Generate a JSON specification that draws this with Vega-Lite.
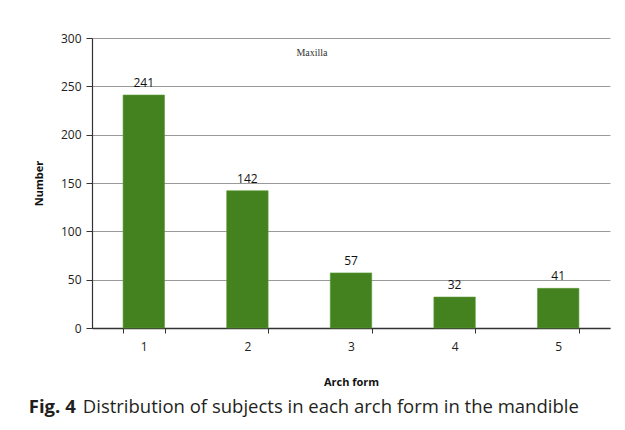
{
  "$schema": "https://vega.github.io/schema/vega-lite/v6.json",
  "width": 518,
  "height": 290,
  "autosize": {"type": "none"},
  "padding": {"left": 92, "top": 38, "right": 15, "bottom": 102},
  "background": "white",
  "config": {"view": {"stroke": null}, "font": "Open Sans"},
  "data": {
    "values": [
      {"form": "1", "count": 241},
      {"form": "2", "count": 142},
      {"form": "3", "count": 57},
      {"form": "4", "count": 32},
      {"form": "5", "count": 41}
    ]
  },
  "layer": [
    {
      "mark": {"type": "bar", "color": "#44821f", "stroke": "#5a9a35", "strokeWidth": 0.6},
      "encoding": {
        "x": {
          "field": "form",
          "type": "nominal",
          "scale": {"paddingInner": 0.6, "paddingOuter": 0.3},
          "axis": {
            "title": "Arch form",
            "titleFont": "Open Sans",
            "titleFontSize": 11,
            "titleFontWeight": "bold",
            "titleColor": "#111",
            "titlePadding": 24,
            "labelAngle": 0,
            "labelFontSize": 12,
            "labelColor": "#222",
            "labelPadding": 8,
            "tickBand": "extent",
            "tickSize": 5,
            "tickColor": "#333",
            "domainColor": "#333",
            "domainWidth": 1.5,
            "grid": false
          }
        },
        "y": {
          "field": "count",
          "type": "quantitative",
          "scale": {"domain": [0, 300], "nice": false},
          "axis": {
            "title": "Number",
            "titleFont": "Open Sans",
            "titleFontSize": 11,
            "titleFontWeight": "bold",
            "titleColor": "#111",
            "titlePadding": 16,
            "values": [0, 50, 100, 150, 200, 250, 300],
            "labelFontSize": 12,
            "labelColor": "#222",
            "labelPadding": 5,
            "tickSize": 6,
            "tickColor": "#333",
            "domainColor": "#333",
            "domainWidth": 1.2,
            "gridColor": "#9a9a9a",
            "gridWidth": 1
          }
        }
      }
    },
    {
      "mark": {"type": "text", "dy": -12, "fontSize": 12, "color": "#111", "font": "Open Sans"},
      "encoding": {
        "x": {"field": "form", "type": "nominal"},
        "y": {"field": "count", "type": "quantitative"},
        "text": {"field": "count", "type": "quantitative"}
      }
    },
    {
      "data": {"values": [{"label": "Maxilla"}]},
      "mark": {"type": "text", "font": "Liberation Serif", "fontSize": 10, "color": "#333", "dx": -39},
      "encoding": {
        "x": {"datum": "3", "type": "nominal"},
        "y": {"datum": 285, "type": "quantitative"},
        "text": {"field": "label", "type": "nominal"}
      }
    },
    {
      "data": {"values": [{"label": "Fig. 4"}]},
      "mark": {"type": "text", "font": "Open Sans", "fontSize": 18.5, "fontWeight": "bold", "color": "#231f20", "align": "left", "baseline": "alphabetic", "dx": -115},
      "encoding": {
        "x": {"datum": "1", "type": "nominal"},
        "y": {"datum": -88, "type": "quantitative"},
        "text": {"field": "label", "type": "nominal"}
      }
    },
    {
      "data": {"values": [{"label": "Distribution of subjects in each arch form in the mandible"}]},
      "mark": {"type": "text", "font": "Open Sans", "fontSize": 18.5, "fontWeight": "normal", "color": "#231f20", "align": "left", "baseline": "alphabetic", "dx": -61},
      "encoding": {
        "x": {"datum": "1", "type": "nominal"},
        "y": {"datum": -88, "type": "quantitative"},
        "text": {"field": "label", "type": "nominal"}
      }
    }
  ]
}
